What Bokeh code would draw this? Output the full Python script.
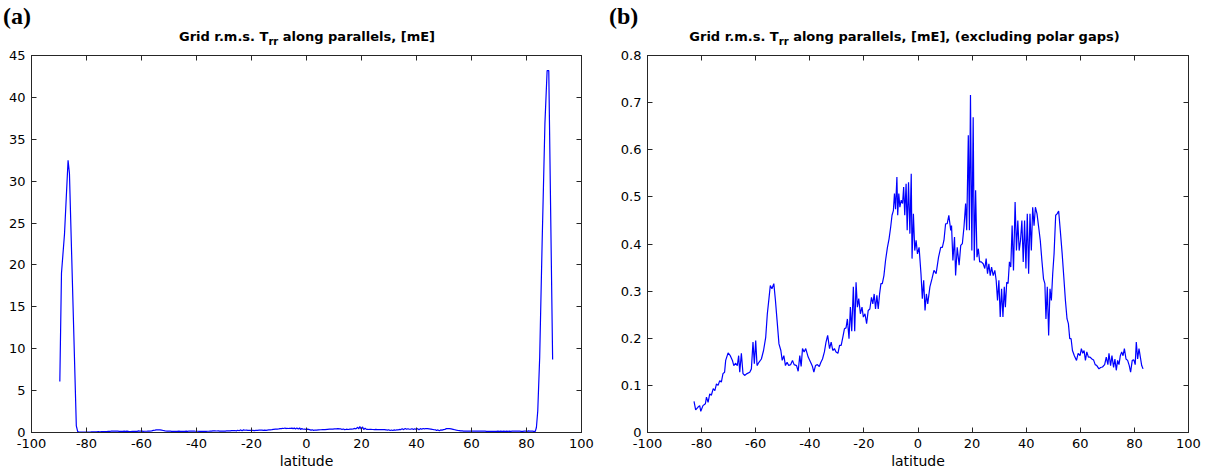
from bokeh.plotting import figure
from bokeh.layouts import row, column
from bokeh.models import FixedTicker, LinearAxis, Range1d, CustomJSTickFormatter, Div
from bokeh.embed import file_html
from bokeh.resources import INLINE

# ---------------- data ----------------
lat_mid_s = [-82.8,-82.2,-81.3,-80.7,-80.3,-79.5,-78.6,-78.2,-77.6,-77.0,
             -76.4,-75.7,-75.1,-74.5,-73.9,-73.3,-72.7,-72.1,-71.5,-71.1,
             -70.2,-69.4,-68.6,-68.1,-67.4,-66.8,-66.3,-65.9,-65.3,-64.7,
             -64.1,-63.2,-62.2,-61.6,-61.0,-60.5,-60.0,-59.5,-58.8,-57.9,
             -57.1,-56.3,-55.7,-55.1,-54.6,-54.0,-53.3,-52.7,-52.1,-51.4,
             -50.7,-50.2,-49.6,-49.0,-48.4,-47.8,-47.1,-46.4,-45.8,-44.9,
             -44.3,-43.7,-43.2,-42.7,-42.1,-41.5,-40.6,-39.7,-39.0,-38.5,
             -37.9,-37.2,-36.5,-35.9,-35.3,-34.6,-34.0,-33.4,-32.7,-32.1,
             -31.5,-30.9,-30.3,-29.6,-29.0,-28.4,-27.8,-27.2,-26.6,-26.1,
             -25.5,-25.0,-24.5,-23.9,-23.4,-22.9,-22.4,-21.9,-21.3,-20.7,
             -20.2,-19.6,-19.0,-18.4,-17.8,-17.2,-16.7,-16.2,-15.7,-15.2,
             -14.7,-14.2,-13.7,-13.2,-12.6,-12.0,-11.3,-10.7,-10.1,-9.6,
             -9.1,-8.7,-8.3,-7.8,-7.5,-7.1,-6.7,-6.2,-5.7,-5.3,
             -4.9,-4.4,-4.0,-3.5,-3.0,-2.5,-2.2,-1.7,-1.2,-0.7,
             -0.2,0.4,1.1,1.6,2.1,2.6,3.1,3.6,4.4,5.2,
             5.9,6.7,7.6,8.4]
val_mid_s = [0.066,0.048,0.054,0.057,0.045,0.057,0.061,0.075,0.064,0.082,
             0.079,0.093,0.089,0.103,0.100,0.110,0.107,0.125,0.128,0.153,
             0.169,0.163,0.153,0.142,0.147,0.142,0.163,0.128,0.168,0.125,
             0.121,0.125,0.128,0.135,0.192,0.146,0.195,0.142,0.149,0.156,
             0.174,0.202,0.252,0.284,0.312,0.305,0.316,0.280,0.238,0.188,
             0.174,0.153,0.163,0.142,0.149,0.142,0.144,0.153,0.144,0.142,
             0.130,0.163,0.140,0.178,0.171,0.178,0.160,0.149,0.140,0.128,
             0.142,0.144,0.140,0.149,0.156,0.171,0.192,0.206,0.178,0.192,
             0.174,0.178,0.171,0.168,0.185,0.185,0.202,0.220,0.222,0.241,
             0.199,0.266,0.215,0.309,0.215,0.319,0.266,0.284,0.252,0.266,
             0.245,0.252,0.231,0.259,0.262,0.287,0.273,0.294,0.262,0.291,
             0.262,0.294,0.316,0.316,0.333,0.365,0.393,0.411,0.436,0.461,
             0.471,0.507,0.474,0.542,0.461,0.507,0.478,0.493,0.486,0.521,
             0.461,0.528,0.429,0.531,0.422,0.549,0.369,0.464,0.386,0.408,
             0.379,0.393,0.337,0.284,0.323,0.259,0.294,0.273,0.309,0.327,
             0.344,0.337,0.372,0.393]
lat_mid_n = [9.0,9.6,10.2,10.8,11.4,12.1,12.4,12.9,13.5,13.9,
             14.5,15.2,15.8,16.4,17.0,17.6,18.0,18.6,19.0,19.4,
             19.9,20.4,20.8,21.3,21.8,22.3,22.8,23.4,24.1,24.7,
             25.2,25.7,26.2,26.7,27.2,27.8,28.4,28.9,29.4,29.9,
             30.4,30.9,31.4,31.9,32.3,32.8,33.3,33.8,34.3,34.8,
             35.3,35.9,36.4,36.9,37.4,37.9,38.4,38.9,39.4,39.9,
             40.4,40.9,41.4,41.9,42.4,42.9,43.4,44.0,44.6,45.2,
             45.8,46.4,46.9,47.3,47.8,48.3,48.8,49.3,49.8,50.3,
             50.9,51.4,52.0,52.6,53.3,53.9,54.5,55.1,55.6,56.1,
             56.6,57.1,57.8,58.6,59.2,59.9,60.4,60.9,61.4,61.9,
             62.4,63.0,63.6,64.3,64.9,65.5,66.1,66.9,67.5,68.2,
             69.0,69.6,70.2,70.6,71.2,71.7,72.3,72.8,73.3,73.8,
             74.3,74.8,75.3,75.8,76.3,76.9,77.5,78.1,78.6,79.2,
             79.8,80.3,80.7,81.2,81.7,82.2,82.7,83.2]
val_mid_n = [0.393,0.408,0.443,0.443,0.461,0.429,0.439,0.365,0.415,0.333,
             0.393,0.355,0.397,0.401,0.436,0.486,0.429,0.631,0.429,0.716,
             0.386,0.669,0.365,0.514,0.372,0.390,0.362,0.362,0.358,0.348,
             0.369,0.337,0.358,0.333,0.351,0.333,0.344,0.323,0.280,0.323,
             0.245,0.305,0.245,0.309,0.266,0.319,0.316,0.362,0.351,0.439,
             0.344,0.489,0.386,0.450,0.386,0.408,0.450,0.362,0.450,0.348,
             0.464,0.337,0.464,0.386,0.478,0.439,0.478,0.464,0.436,0.408,
             0.365,0.326,0.316,0.241,0.309,0.206,0.305,0.280,0.337,0.379,
             0.461,0.464,0.470,0.429,0.379,0.330,0.280,0.241,0.231,0.199,
             0.199,0.174,0.163,0.153,0.168,0.163,0.178,0.168,0.174,0.153,
             0.171,0.160,0.160,0.156,0.154,0.144,0.142,0.135,0.138,0.139,
             0.144,0.160,0.144,0.168,0.142,0.163,0.138,0.156,0.132,0.153,
             0.144,0.163,0.171,0.163,0.178,0.156,0.153,0.142,0.128,0.153,
             0.154,0.144,0.192,0.156,0.178,0.160,0.142,0.135]
# polar caps (only in panel a)
lat_cap_s = [-89.7, -89.1, -88.0, -86.7, -86.2, -83.7, -83.2]
val_cap_s = [6.1, 19.0, 23.7, 32.5, 30.9, 0.8, 0.1]
lat_cap_n = [83.6, 84.1, 84.8, 85.7, 86.7, 87.5, 88.1, 89.5]
val_cap_n = [0.6, 2.6, 9.0, 22.9, 36.9, 43.2, 43.2, 8.7]

x_ticks = [-100, -80, -60, -40, -20, 0, 20, 40, 60, 80, 100]
x_tick_labels = ["-100", "-80", "-60", "-40", "-20", "0", "20", "40", "60", "80", "100"]
ya_ticks = [0, 5, 10, 15, 20, 25, 30, 35, 40, 45]
ya_tick_labels = ["0", "5", "10", "15", "20", "25", "30", "35", "40", "45"]
yb_ticks = [0, 0.1, 0.2, 0.3, 0.4, 0.5, 0.6, 0.7, 0.8]
yb_tick_labels = ["0", "0.1", "0.2", "0.3", "0.4", "0.5", "0.6", "0.7", "0.8"]

title_main = "Grid r.m.s. T"
title_sub = "rr"
title_a_rest = " along parallels, [mE]"
title_b_rest = " along parallels, [mE], (excluding polar gaps)"

assert len(lat_mid_s) == len(val_mid_s) and len(lat_mid_n) == len(val_mid_n)
lat_b = lat_mid_s + lat_mid_n
val_b = val_mid_s + val_mid_n
lat_a = lat_cap_s + lat_b + lat_cap_n
val_a = val_cap_s + val_b + val_cap_n

AX = "#262626"
FONT = "DejaVu Sans"
HEAD_H = 46


def panel(frame_w, ml, mr, ymax, yt, ylab, lat, val):
    p = figure(frame_width=frame_w, frame_height=377,
               min_border_left=ml, min_border_right=mr,
               min_border_top=55 - HEAD_H, min_border_bottom=41,
               x_range=Range1d(-100, 100), y_range=Range1d(0, ymax),
               output_backend="svg", toolbar_location=None)
    p.grid.visible = False
    p.outline_line_color = AX
    p.background_fill_color = "white"
    p.border_fill_color = "white"
    bottom = p.xaxis[0]
    left = p.yaxis[0]
    right = LinearAxis()
    top = LinearAxis()
    p.add_layout(right, "right")
    p.add_layout(top, "above")
    for ax in (bottom, top):
        ax.ticker = FixedTicker(ticks=x_ticks)
    for ax in (left, right):
        ax.ticker = FixedTicker(ticks=yt)
    for ax in (bottom, top, left, right):
        ax.major_tick_in = 5
        ax.major_tick_out = 0
        ax.minor_tick_line_color = None
        ax.axis_line_color = AX
        ax.major_tick_line_color = AX
        ax.major_label_text_font = FONT
        ax.major_label_text_font_size = "13px"
        ax.major_label_text_color = "black"
    for ax in (top, right):
        ax.formatter = CustomJSTickFormatter(code="return ''")
        ax.major_label_text_font_size = "1px"
        ax.major_label_text_color = None
        ax.major_label_standoff = 0
    bottom.major_label_overrides = dict(zip(x_ticks, x_tick_labels))
    left.major_label_overrides = dict(zip(yt, ylab))
    bottom.major_label_standoff = 6
    left.major_label_standoff = 6
    bottom.axis_label = "latitude"
    bottom.axis_label_text_font = FONT
    bottom.axis_label_text_font_size = "14px"
    bottom.axis_label_text_font_style = "normal"
    bottom.axis_label_text_color = "black"
    bottom.axis_label_standoff = 2
    p.line(lat, val, line_color="#0000ff", line_width=1.2)
    return p


def header(tag, rest, box_w):
    html = (
        f'<div style="position:relative;width:606px;height:{HEAD_H}px;">'
        f'<span style="position:absolute;left:3px;top:3px;font-family:\'Liberation Serif\';'
        f'font-weight:bold;font-size:24px;line-height:normal;color:black;white-space:nowrap;">{tag}</span>'
        f'<span style="position:absolute;left:0px;width:{box_w}px;top:29px;text-align:center;'
        f'font-family:\'{FONT}\';font-weight:bold;font-size:13px;line-height:normal;color:black;white-space:nowrap;">'
        f'{title_main}<span style="font-size:10px;position:relative;top:4px;">{title_sub}</span>{rest}</span>'
        f'</div>'
    )
    return Div(text=html, width=606, height=HEAD_H, margin=0)


pa = panel(550, 31, 25, 45, ya_ticks, ya_tick_labels, lat_a, val_a)
pb = panel(541, 41, 24, 0.8, yb_ticks, yb_tick_labels, lat_b, val_b)

ha = header("(a)", title_a_rest, 614)
hb = header("(b)", title_b_rest, 597)

layout = row(column(ha, pa, spacing=0), column(hb, pb, spacing=0), spacing=0)
open("out.html", "w").write(file_html(layout, INLINE))
